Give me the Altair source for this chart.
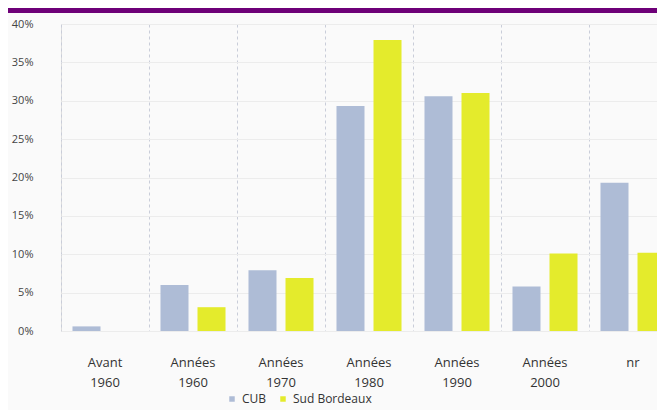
import altair as alt
import pandas as pd

categories = ["Avant 1960", "Années 1960", "Années 1970", "Années 1980", "Années 1990", "Années 2000", "nr"]
series = ["CUB", "Sud Bordeaux"]
cub = [0.6, 6.0, 7.9, 29.3, 30.6, 5.8, 19.3]
sud = [0.0, 3.1, 6.9, 37.9, 31.0, 10.1, 10.2]
colors = ["#AEBCD6", "#E4EB2C"]
y_ticks = [0, 0.05, 0.10, 0.15, 0.20, 0.25, 0.30, 0.35, 0.40]

rows = []
for c, a, b in zip(categories, cub, sud):
    rows.append({"cat": c, "serie": series[0], "val": a / 100})
    rows.append({"cat": c, "serie": series[1], "val": b / 100})
df = pd.DataFrame(rows)

FONT = "Open Sans"

bars = alt.Chart(df).mark_bar().encode(
    x=alt.X("cat:N", sort=categories, title=None,
            scale=alt.Scale(range=[0, 616], paddingInner=0, paddingOuter=0),
            axis=alt.Axis(labelAngle=0, domain=False, ticks=False, grid=True,
                          bandPosition=0, gridDash=[3, 3], gridColor="#C9CDD9",
                          labelExpr="split(datum.label, ' ')", labelLineHeight=20,
                          labelPadding=25, labelFontSize=13, labelColor="#333333",
                          labelFont=FONT, labelBaseline="top")),
    xOffset=alt.XOffset("serie:N", sort=series,
                        scale=alt.Scale(paddingInner=0.243, paddingOuter=0.31)),
    y=alt.Y("val:Q", title=None, scale=alt.Scale(domain=[0, 0.4], nice=False),
            axis=alt.Axis(format="%", values=y_ticks, domain=False, ticks=False,
                          gridColor="#ECECEC", labelPadding=28, labelFontSize=11,
                          labelColor="#444444", labelFont=FONT)),
    color=alt.Color("serie:N", sort=series,
                    scale=alt.Scale(domain=series, range=colors),
                    legend=alt.Legend(orient="none", legendX=165, legendY=369,
                                      direction="horizontal", title=None,
                                      symbolType="square", symbolSize=30,
                                      labelFontSize=12, labelFont=FONT,
                                      labelColor="#333333", columnPadding=10,
                                      symbolStrokeWidth=0)),
)

band = alt.Chart(pd.DataFrame({"a": [0]})).mark_rect(color="#6E0078").encode(
    x=alt.value(-53), x2=alt.value(600), y=alt.value(-16), y2=alt.value(-11)
)

chart = alt.layer(bars, band).properties(
    width=596, height=307,
    padding={"left": 53, "top": 16, "right": 0, "bottom": 79},
    autosize=alt.AutoSizeParams(type="none"),
    background="#FAFAFA",
).configure_view(stroke=None).configure(font=FONT)

chart.save("out.html", embed_options={"renderer": "svg", "actions": False})
